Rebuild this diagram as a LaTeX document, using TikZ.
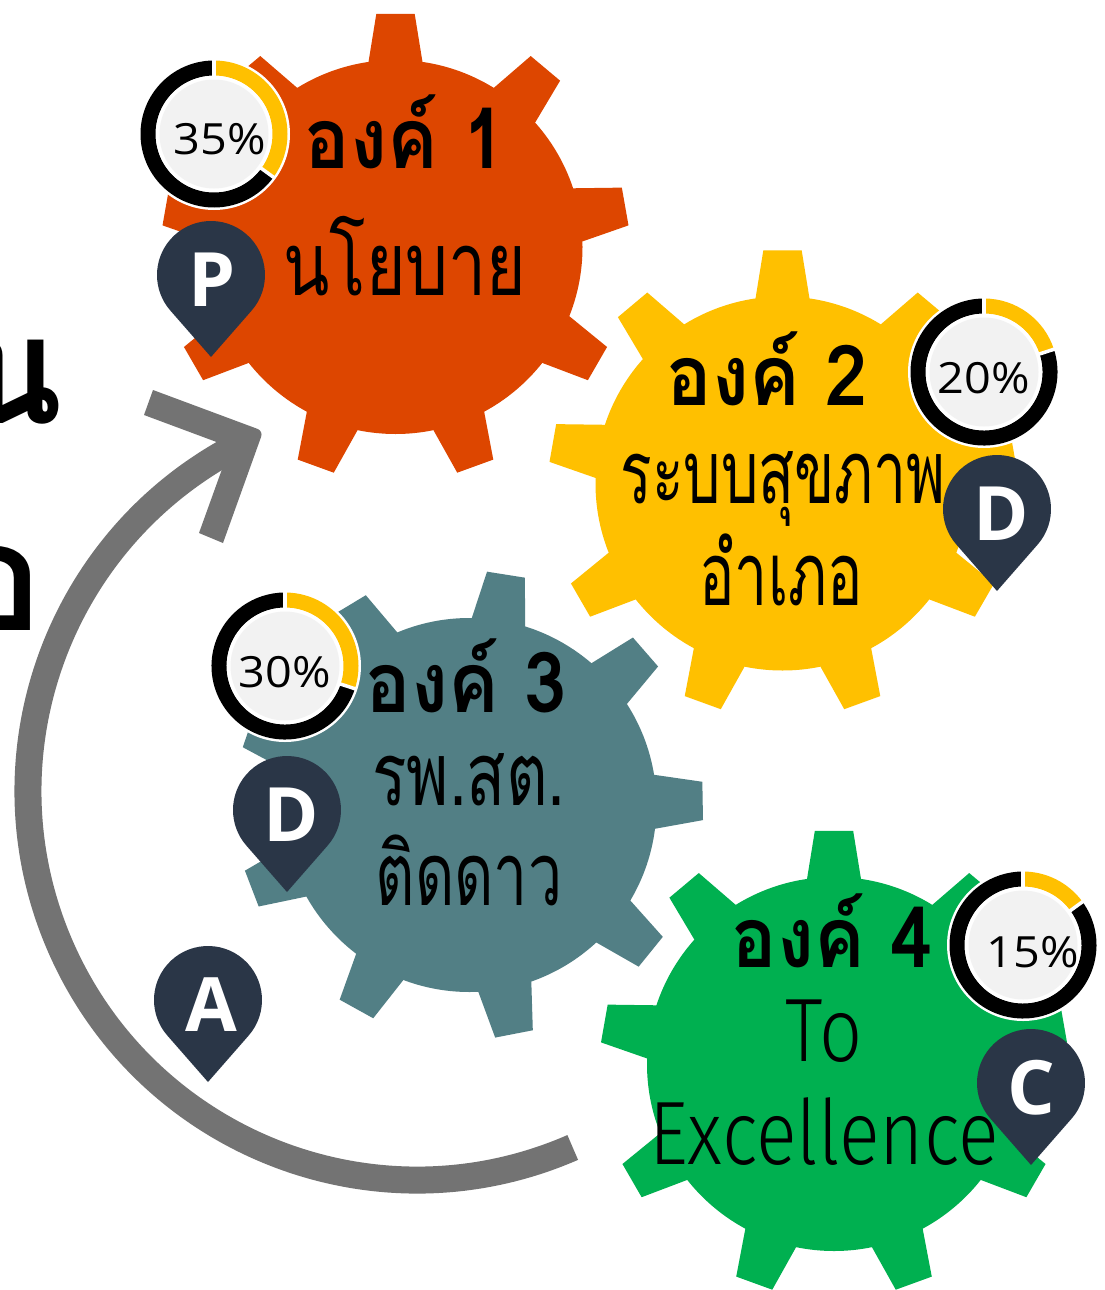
\documentclass[tikz,border=0pt]{standalone}
\usepackage{fontspec}
\usepackage{graphicx}
\newfontfamily\thaifont[Script=Thai]{Loma}
\newfontfamily\latlight[FakeStretch=0.84]{Fira Sans Light}
\newfontfamily\opensans[FakeStretch=1.09]{Open Sans}
\newfontfamily\opensansb{Open Sans}
\definecolor{gOrange}{HTML}{DD4600}
\definecolor{gYellow}{HTML}{FFC000}
\definecolor{gTeal}{HTML}{527F85}
\definecolor{gGreen}{HTML}{00B050}
\definecolor{pinBlue}{HTML}{2A3647}
\definecolor{arrowGrey}{HTML}{737373}
\definecolor{discGrey}{HTML}{F2F2F2}
\tikzset{
  txt/.style={inner sep=0pt,outer sep=0pt,anchor=base,text=black},
  heading/.style={txt,font=\thaifont\bfseries\fontsize{84}{84}\selectfont},
  body/.style={txt,font=\thaifont\fontsize{88}{88}\selectfont},
  latin/.style={txt,font=\latlight\fontsize{90}{90}\selectfont},
  pct/.style={txt,font=\opensans\fontsize{43}{43}\selectfont},
  pinletter/.style={txt,text=white,font=\opensansb\bfseries\fontsize{75}{75}\selectfont},
  edgecut/.style={txt,font=\thaifont\bfseries\fontsize{150}{150}\selectfont}
}
\newcommand{\squeezed}[2]{\scalebox{#1}[1]{#2}}
% centre x, centre y, rotation, colour
\newcommand{\gearshape}[4]{%
  \fill[#4] (#1,#2) circle[radius=187pt];
  \foreach \a in {0,40,...,320}{
    \fill[#4] ($(#1,#2)+({#3+\a-8.3}:180)$)
      -- ($(#1,#2)+({#3+\a-8.3}:187)$) -- ($(#1,#2)+({#3+\a-4.7}:234)$)
      -- ($(#1,#2)+({#3+\a+4.7}:234)$) -- ($(#1,#2)+({#3+\a+8.3}:187)$)
      -- ($(#1,#2)+({#3+\a+8.3}:180)$) -- cycle;
  }
}
% name, centre x, centre y, percent, text x, baseline y
\newcommand{\donut}[6]{%
  \pgfmathsetmacro{\endang}{-90+3.6*#4}
  \fill[white] (#2,#3) circle[radius=76pt];
  \draw[black,line width=15pt] (#2,#3) ++(\endang:66) arc[start angle=\endang,end angle=270,radius=66pt];
  \draw[gYellow,line width=15pt] (#2,#3) ++(-90:66) arc[start angle=-90,end angle=\endang,radius=66pt];
  \draw[white,line width=3.5pt] (#2,#3) -- ++(-90:75);
  \draw[white,line width=3.5pt] (#2,#3) -- ++(\endang:75);
  \fill[white] (#2,#3) circle[radius=58pt];
  \fill[discGrey] (#2,#3) circle[radius=54.5pt];
  \node[pct] (#1) at (#5,#6) {#4\%};
}
% name, centre x, centre y, letter, letter x offset
\newcommand{\mappin}[5]{%
  \fill[pinBlue] (#2,#3) ++(41:54) arc[start angle=41,end angle=-221,radius=54pt] -- (#2,#3+82) -- cycle;
  \node[pinletter] (#1) at (#2+#5,#3+31) {#4};
}
\usetikzlibrary{calc}
\begin{document}
\begin{tikzpicture}[x=1pt,y=1pt,yscale=-1]
\useasboundingbox (0,0) rectangle (1105,1290);
\fill[white] (0,0) rectangle (1105,1290);

% text cut by the left edge
\node[edgecut] (cutA) at (12,423) {น};
\node[edgecut] (cutB) at (-1,630) {อ};

% cycle arrow
\draw[arrowGrey,line width=27pt] (417,791) ++(66.4:389) arc[start angle=66.4,end angle=243.5,radius=389pt];
\fill[arrowGrey,rounded corners=0pt] (153,390) [rounded corners=6pt] -- (263.2,431) [rounded corners=0pt] -- (223,543) -- (199,533) -- (230,447) -- (144,415) -- cycle;

% gears
\gearshape{395.5}{247}{-90}{gOrange}
\gearshape{782.5}{483.5}{-90}{gYellow}
\gearshape{469.5}{805}{-1}{gTeal}
\gearshape{834}{1064}{-90}{gGreen}

% texts
\node[heading] (h1) at (405,168) {\squeezed{0.9}{องค์ 1}};
\node[body] (b1) at (405,295) {\squeezed{0.77}{นโยบาย}};
\node[heading] (h2) at (767,405) {\squeezed{0.9}{องค์ 2}};
\node[body] (b2a) at (783,503) {\squeezed{0.67}{ระบบสุขภาพ}};
\node[body] (b2b) at (781,605) {\squeezed{0.67}{อำเภอ}};
\node[heading] (h3) at (466,712) {\squeezed{0.9}{องค์ 3}};
\node[body] (b3a) at (469,805) {\squeezed{0.73}{รพ.สต.}};
\node[body] (b3b) at (469,905) {\squeezed{0.69}{ติดดาว}};
\node[heading] (h4) at (832,967) {\squeezed{0.9}{องค์ 4}};
\node[latin] (b4a) at (824,1061) {To};
\node[latin] (b4b) at (824,1164) {Excellence};

% progress rings
\donut{r1}{214}{134}{35}{220}{154}
\donut{r2}{984}{372}{20}{984}{393}
\donut{r3}{285}{666}{30}{285}{687}
\donut{r4}{1023}{945}{15}{1033}{967}

% pins
\mappin{p1}{211}{275}{P}{1}
\mappin{p2}{997}{509}{D}{4}
\mappin{p3}{287}{810}{D}{4}
\mappin{p4}{208}{1000}{A}{3}
\mappin{p5}{1031}{1083}{C}{0}
\end{tikzpicture}
\end{document}
